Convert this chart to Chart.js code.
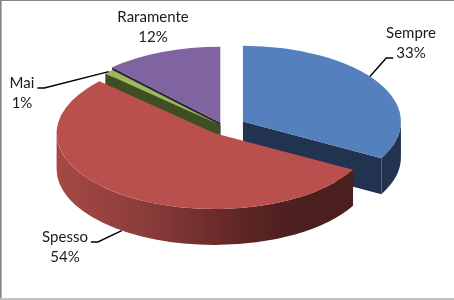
<!DOCTYPE html>
<html>
<head>
<meta charset="utf-8">
<script src="https://cdn.jsdelivr.net/npm/chart.js@4.4.1/dist/chart.umd.min.js"></script>
<style>
html, body { margin: 0; padding: 0; background: #fff; }
#wrap { width: 454px; height: 300px; position: relative; }
</style>
</head>
<body>
<div id="wrap"><canvas id="pie"></canvas></div>
<script>
// data
var categories = ["Sempre", "Spesso", "Mai", "Raramente"];
var percents = [33, 54, 1, 12];

// looks
var topColors = ["#5580BE", "#BA504E", "#9BBB59", "#8064A2"];
var sideColors = ["#21334F", "#6B2A29", "#3F4F23", "#33273F"];
var explode = [22, 16, 5, 10];   // px, pushed out along each slice's middle
var tilt = 0.48;      // vertical squash of the pie
var depth = 36;       // thickness in px
// label text centre (first line), leader side, where the leader meets the slice
var labelPos = [
	{x: 411, y: 33, leader: "left", at: 0.45},
	{x: 65, y: 237, leader: "right", at: 0.5, bottom: true},
	{x: 22, y: 83, leader: "right", at: 0.5},
	{x: 153, y: 17, leader: null}
];

function midY(chart) {
	return (chart.chartArea.top + chart.chartArea.bottom) / 2;
}

var pie3d = {
	id: "pie3d",
	afterDatasetUpdate: function(chart, args) {
		// explode slices by moving each arc's centre
		args.meta.data.forEach(function(arc, i) {
			var half = (arc.startAngle + arc.endAngle) / 2;
			arc.x += Math.cos(half) * explode[i];
			arc.y += Math.sin(half) * explode[i];
		});
	},
	beforeDatasetsDraw: function(chart) {
		var ctx = chart.ctx;
		var cy = midY(chart);
		var D = depth / tilt;
		ctx.save();
		ctx.translate(0, cy);
		ctx.scale(1, tilt);
		ctx.translate(0, -cy);

		var arcs = chart.getDatasetMeta(0).data;
		var order = arcs.map(function(a, i) { return i; });
		order.sort(function(a, b) {
			return Math.sin((arcs[a].startAngle + arcs[a].endAngle) / 2) -
				Math.sin((arcs[b].startAngle + arcs[b].endAngle) / 2);
		});

		order.forEach(function(i) {
			var g = arcs[i];
			var r = g.outerRadius;
			ctx.fillStyle = sideColors[i];
			// cut faces
			[[g.startAngle, Math.cos(g.startAngle) < -0.001], [g.endAngle, Math.cos(g.endAngle) > 0.001]].forEach(function(f) {
				if (!f[1]) return;
				var px = g.x + r * Math.cos(f[0]), py = g.y + r * Math.sin(f[0]);
				ctx.beginPath();
				ctx.moveTo(g.x, g.y);
				ctx.lineTo(px, py);
				ctx.lineTo(px, py + D);
				ctx.lineTo(g.x, g.y + D);
				ctx.closePath();
				ctx.fill();
			});
			// outer wall, front half only
			[0, 2 * Math.PI].forEach(function(base) {
				var a = Math.max(g.startAngle, base), b = Math.min(g.endAngle, base + Math.PI);
				if (b <= a) return;
				var grad = ctx.createLinearGradient(g.x - r, 0, g.x + r, 0);
				if (i === 1) {
					grad.addColorStop(0, "#A64846");
					grad.addColorStop(0.27, "#8C3D3B");
					grad.addColorStop(0.55, "#642827");
					grad.addColorStop(0.72, "#4E201F");
					grad.addColorStop(1, "#4A1F1E");
				} else {
					grad.addColorStop(0, sideColors[i]);
					grad.addColorStop(1, sideColors[i]);
				}
				ctx.fillStyle = grad;
				ctx.beginPath();
				ctx.arc(g.x, g.y, r, a, b);
				ctx.arc(g.x, g.y + D, r, b, a, true);
				ctx.closePath();
				ctx.fill();
			});
		});
	},
	afterDatasetsDraw: function(chart) {
		chart.ctx.restore();
	},
	afterDraw: function(chart) {
		var ctx = chart.ctx;
		var cy = midY(chart);
		var arcs = chart.getDatasetMeta(0).data;
		ctx.save();
		ctx.font = "15px Lato";
		ctx.fillStyle = "#1a1a1a";
		ctx.textAlign = "center";
		ctx.textBaseline = "middle";
		ctx.strokeStyle = "#000";
		ctx.lineWidth = 1.4;
		arcs.forEach(function(arc, i) {
			var p = labelPos[i];
			ctx.fillText(categories[i], p.x, p.y);
			ctx.fillText(percents[i] + "%", p.x, p.y + 20);
			if (!p.leader) return;
			var ang = arc.startAngle + (arc.endAngle - arc.startAngle) * p.at;
			var tx = arc.x + arc.outerRadius * Math.cos(ang);
			var ty = cy + (arc.y + arc.outerRadius * Math.sin(ang) - cy) * tilt;
			if (p.bottom) ty += depth;
			var w1 = ctx.measureText(categories[i]).width;
			var w2 = ctx.measureText(percents[i] + "%").width;
			var sx, sy, ex;
			if (p.leader === "left") {
				sx = p.x - w2 / 2 - 3; sy = p.y + 25; ex = sx - 7;
			} else {
				sx = p.x + w1 / 2 + 3; sy = p.y + 5; ex = sx + 7;
			}
			ctx.beginPath();
			ctx.moveTo(sx, sy);
			ctx.lineTo(ex, sy);
			ctx.lineTo(tx, ty);
			ctx.stroke();
		});
		// frame
		ctx.fillStyle = "#858585";
		ctx.fillRect(0, 0, 454, 1);
		ctx.fillRect(0, 0, 1, 300);
		ctx.fillStyle = "#b5b5b5";
		ctx.fillRect(1, 1, 1, 298);
		ctx.fillStyle = "#c2c2c2";
		ctx.fillRect(0, 298, 454, 2);
		ctx.restore();
	}
};

new Chart(document.getElementById("pie"), {
	type: "pie",
	data: {
		labels: categories,
		datasets: [{
			data: percents,
			backgroundColor: topColors,
			borderWidth: 0,
			radius: 158,
			clip: false
		}]
	},
	options: {
		responsive: true,
		maintainAspectRatio: false,
		animation: false,
		events: [],
		devicePixelRatio: 1,
		layout: { padding: { left: 0, right: 6, top: 0, bottom: 46 } },
		plugins: {
			legend: { display: false },
			tooltip: { enabled: false }
		}
	},
	plugins: [pie3d]
});
</script>
</body>
</html>
